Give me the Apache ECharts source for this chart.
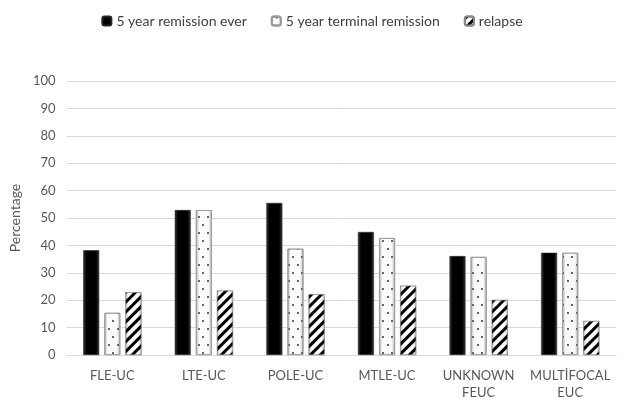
<!DOCTYPE html>
<html>
<head>
<meta charset="utf-8">
<script src="https://cdn.jsdelivr.net/npm/echarts@6/dist/echarts.min.js"></script>
<style>
  html, body { margin: 0; padding: 0; background: #fff; }
  #chart { width: 624px; height: 401px; }
</style>
</head>
<body>
<div id="chart"></div>
<script>
// Outcome groups and percentages per group
const categories = ['FLE-UC', 'LTE-UC', 'POLE-UC', 'MTLE-UC', 'UNKNOWN\nFEUC', 'MULTİFOCAL\nEUC'];
const remissionEver = [38.2, 52.9, 55.5, 44.9, 36.1, 37.3];
const terminalRemission = [15.4, 52.9, 38.8, 42.7, 35.8, 37.3];
const relapse = [22.9, 23.5, 22.2, 25.3, 20.1, 12.4];
const yTicks = { min: 0, max: 100, interval: 10 };

const font = 'Lato, "Open Sans", sans-serif';
const textColor = '#595959';

function hGrad(edge, mid) {
  return {
    type: 'linear', x: 0, y: 0, x2: 1, y2: 0,
    colorStops: [
      { offset: 0, color: edge },
      { offset: 0.2, color: mid },
      { offset: 0.8, color: mid },
      { offset: 1, color: edge }
    ]
  };
}

const chart = echarts.init(document.getElementById('chart'), null, { renderer: 'canvas' });
chart.setOption({
  animation: false,
  backgroundColor: '#fff',
  textStyle: { fontFamily: font },
  legend: {
    top: 9,
    left: 'center',
    itemWidth: 9,
    itemHeight: 9,
    itemGap: 24,
    textStyle: { fontSize: 14, color: '#404040', fontFamily: font },
    data: ['5 year remission ever', '5 year terminal remission', 'relapse']
  },
  grid: { left: 64, right: 8, top: 81, bottom: 42, containLabel: false },
  xAxis: {
    type: 'category',
    data: categories,
    axisTick: { show: false },
    axisLine: { lineStyle: { color: '#d9d9d9' } },
    axisLabel: { color: textColor, fontSize: 13, fontFamily: font, margin: 12, lineHeight: 17, interval: 0 }
  },
  yAxis: {
    type: 'value',
    min: yTicks.min, max: yTicks.max, interval: yTicks.interval,
    name: 'Percentage',
    nameLocation: 'middle',
    nameGap: 40,
    nameTextStyle: { color: textColor, fontSize: 14, fontFamily: font },
    axisLabel: { color: textColor, fontSize: 13, fontFamily: font, margin: 11 },
    axisLine: { show: false },
    axisTick: { show: false },
    splitLine: { lineStyle: { color: '#d9d9d9', width: 1 } }
  },
  series: [
    {
      name: '5 year remission ever',
      type: 'bar',
      data: remissionEver,
      barWidth: 16,
      barGap: '32%',
      itemStyle: { color: hGrad('#3a3a3a', '#000'), borderColor: '#222', borderWidth: 0.5 }
    },
    {
      name: '5 year terminal remission',
      type: 'bar',
      data: terminalRemission,
      barWidth: 16,
      itemStyle: {
        color: hGrad('#a8a8a8', '#fbfbfb'),
        borderColor: '#9a9a9a',
        borderWidth: 0.8,
        decal: {
          symbol: 'rect',
          symbolSize: 1,
          color: '#666',
          dashArrayX: [[1.2, 7], [0, 4, 1.2, 3]],
          dashArrayY: [1.2, 6],
          rotation: 0
        }
      }
    },
    {
      name: 'relapse',
      type: 'bar',
      data: relapse,
      barWidth: 16,
      itemStyle: {
        color: hGrad('#bdbdbd', '#ffffff'),
        borderColor: '#888',
        borderWidth: 0.5,
        decal: {
          symbol: 'rect',
          symbolSize: 1,
          color: '#000',
          dashArrayX: [1, 0],
          dashArrayY: [3, 3.5],
          rotation: -Math.PI / 4
        }
      }
    }
  ]
});
</script>
</body>
</html>
